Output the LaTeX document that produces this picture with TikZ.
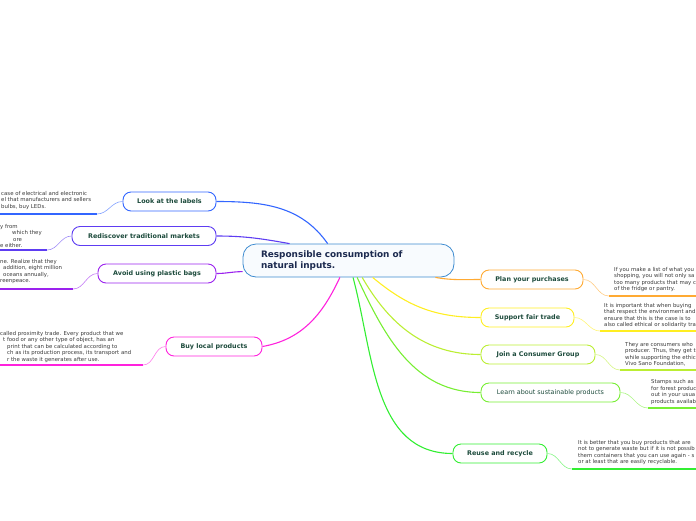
\documentclass[tikz,border=0pt]{standalone}
\usepackage{fontspec}
\setmainfont{DejaVu Sans}
\usetikzlibrary{arrows.meta,positioning}
\usepackage{xcolor}
\definecolor{rootblue}{HTML}{3D8BD0}
\definecolor{rootfill}{HTML}{F8FBFE}
\definecolor{rootink}{HTML}{1C2A4F}
\definecolor{topicink}{HTML}{1D4B3C}
\definecolor{noteink}{HTML}{3A3A3A}
\definecolor{lookblue}{HTML}{3366FF}
\definecolor{marketviolet}{HTML}{5E3DF2}
\definecolor{bagpurple}{HTML}{9B22EE}
\definecolor{localpink}{HTML}{FF22DD}
\definecolor{planorange}{HTML}{FFAA33}
\definecolor{fairyellow}{HTML}{FFEE22}
\definecolor{grouplime}{HTML}{BBEE33}
\definecolor{learngreen}{HTML}{77EE33}
\definecolor{reusegreen}{HTML}{33EE33}

\begin{document}
\begin{tikzpicture}[x=1pt,y=1pt,every node/.style={font=\fontsize{6.4}{7.5}\selectfont\bfseries,text=topicink},root/.style={draw=rootblue,line width=0.8pt,fill=rootfill,rounded corners=13pt,minimum width=211pt,minimum height=33pt,text width=175pt,inner xsep=18pt,align=left,font=\fontsize{8.9}{11}\selectfont\bfseries,text=rootink},topic/.style={draw,line width=0.9pt,fill=white,rounded corners=8pt,minimum height=19pt,inner xsep=0pt},note/.style={anchor=north west,align=left,inner sep=0pt,font=\fontsize{5.4}{6.5}\selectfont,text=noteink},branch/.style={line width=1.1pt},twig/.style={line width=0.6pt},rule/.style={line width=1.7pt}]
\useasboundingbox (0,0) rectangle (696,-520);
\node[root] (root) at (348.5,-260.5) {Responsible consumption of\\natural inputs.};
\node[topic,draw=lookblue,minimum width=93pt] (labels) at (169.5,-201.5) {Look at the labels};
\node[topic,draw=marketviolet,minimum width=144pt] (markets) at (144,-236) {Rediscover traditional markets};
\node[topic,draw=bagpurple,minimum width=118pt] (bags) at (157,-273.5) {Avoid using plastic bags};
\node[topic,draw=localpink,minimum width=96pt] (local) at (214,-346.5) {Buy local products};
\node[topic,draw=planorange,minimum width=102pt] (plan) at (532,-279.5) {Plan your purchases};
\node[topic,draw=fairyellow,minimum width=93pt] (fair) at (527.5,-317.5) {Support fair trade};
\node[topic,draw=grouplime,minimum width=114pt] (group) at (538,-354.5) {Join a Consumer Group};
\node[topic,draw=learngreen,minimum width=139pt,font=\fontsize{6.4}{7.5}\selectfont] (learn) at (550.5,-392.5) {Learn about sustainable products};
\node[topic,draw=reusegreen,minimum width=94pt] (reuse) at (500,-453.5) {Reuse and recycle};
\node[note] (labelsnote) at (1,-191) {case of electrical and electronic\\el that manufacturers and sellers\\bulbs, buy LEDs.};
\node[note] (marketsnote) at (0,-224) {y from\\\hspace*{12pt}which they\\\hspace*{13pt}ore\\e either.};
\node[note] (bagsnote) at (0,-259) {ne. Realize that they\\\hspace*{3pt}addition, eight million\\\hspace*{3pt}oceans annually,\\reenpeace.};
\node[note] (localnote) at (0,-331) {called proximity trade. Every product that we\\\hspace*{3pt}t food or any other type of object, has an\\\hspace*{7pt}print that can be calculated according to\\\hspace*{7pt}ch as its production process, its transport and\\\hspace*{7pt}r the waste it generates after use.};
\node[note] (plannote) at (614,-267) {If you make a list of what you\\shopping, you will not only sa\\too many products that may c\\of the fridge or pantry.};
\node[note] (fairnote) at (604,-303) {It is important that when buying\\that respect the environment and\\ensure that this is the case is to\\also called ethical or solidarity tra};
\node[note] (groupnote) at (625,-342) {They are consumers who\\producer. Thus, they get t\\while supporting the ethic\\Vivo Sano Foundation,};
\node[note] (learnnote) at (651,-379.5) {Stamps such as\\for forest produc\\out in your usua\\products availab};
\node[note] (reusenote) at (578,-440) {It is better that you buy products that are\\not to generate waste but if it is not possib\\them containers that you can use again - s\\or at least that are easily recyclable.};
\coordinate (labelsrule) at (97,-214); \coordinate (marketsrule) at (47,-250); \coordinate (bagsrule) at (73,-289); \coordinate (localrule) at (143,-365);
\coordinate (planrule) at (609,-296); \coordinate (fairrule) at (600,-331); \coordinate (grouprule) at (620,-370); \coordinate (learnrule) at (648,-408); \coordinate (reuserule) at (572,-469);
\draw[branch,lookblue] (root.141) to[out=125,in=0] (labels.east);
\draw[branch,marketviolet] (root.164) to[out=170,in=0] (markets.east);
\draw[branch,bagpurple] (root.186) to[out=180,in=0] (bags.east);
\draw[branch,localpink] (root.243) to[out=245,in=10] (local.east);
\draw[branch,planorange] (root.-11) to[out=-10,in=180] (plan.west);
\draw[branch,fairyellow] (root.-35) to[out=-40,in=180] (fair.west);
\draw[branch,grouplime] (root.-51) to[out=-60,in=180] (group.west);
\draw[branch,learngreen] (root.-63) to[out=-65,in=180] (learn.west);
\draw[branch,reusegreen] (root.-75) to[out=-75,in=180] (reuse.west);
\draw[twig,lookblue!60] (labels.west) to[out=180,in=0] (labelsrule); \draw[rule,lookblue] (labelsrule) -- ++(-97,0);
\draw[twig,marketviolet!60] (markets.west) to[out=180,in=0] (marketsrule); \draw[rule,marketviolet] (marketsrule) -- ++(-47,0);
\draw[twig,bagpurple!60] (bags.west) to[out=180,in=0] (bagsrule); \draw[rule,bagpurple] (bagsrule) -- ++(-73,0);
\draw[twig,localpink!60] (local.west) to[out=180,in=0] (localrule); \draw[rule,localpink] (localrule) -- ++(-143,0);
\draw[twig,planorange!60] (plan.east) to[out=0,in=180] (planrule); \draw[rule,planorange] (planrule) -- ++(87,0);
\draw[twig,fairyellow!60] (fair.east) to[out=0,in=180] (fairrule); \draw[rule,fairyellow] (fairrule) -- ++(96,0);
\draw[twig,grouplime!60] (group.east) to[out=0,in=180] (grouprule); \draw[rule,grouplime] (grouprule) -- ++(76,0);
\draw[twig,learngreen!60] (learn.east) to[out=0,in=180] (learnrule); \draw[rule,learngreen] (learnrule) -- ++(48,0);
\draw[twig,reusegreen!60] (reuse.east) to[out=0,in=180] (reuserule); \draw[rule,reusegreen] (reuserule) -- ++(124,0);
\end{tikzpicture}
\end{document}
